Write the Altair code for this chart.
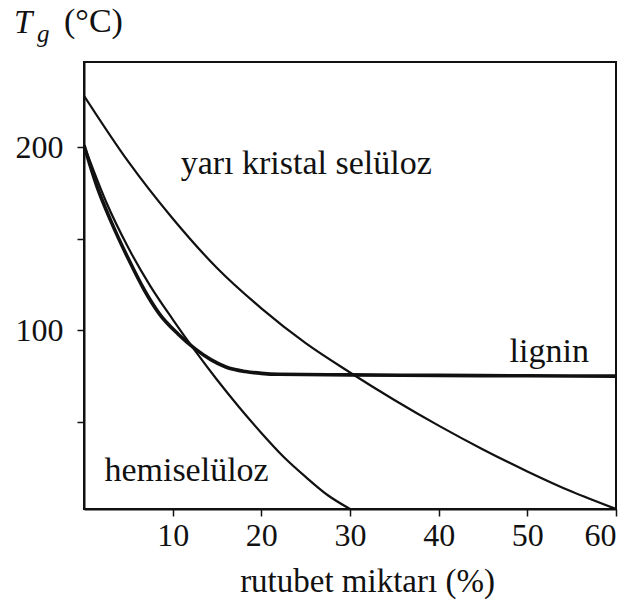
import altair as alt
import pandas as pd

# --- data ---
x_cellulose = [0, 5, 10, 15, 20, 25, 30, 35, 40, 45, 50, 55, 60]
tg_cellulose = [228, 192, 161, 134, 112, 93, 77, 62, 48, 35, 23, 12, 2.5]

x_lignin = [0, 1.5, 3, 5, 6.8, 8.5, 10.6, 12.5, 14.3, 16, 18.2, 20, 21.9, 30, 40, 50, 60]
tg_lignin = [201, 178, 160, 139, 122, 109, 98, 90, 84, 80, 77.5, 76.5, 76, 75.7, 75.4, 75.2, 75]

x_hemi = [0, 2.5, 5, 7.5, 10, 12.5, 15, 17.5, 20, 22.5, 25, 27.5, 30]
tg_hemi = [201, 170, 145, 124, 106, 89, 73, 58, 44, 31, 20, 10, 2.5]

series_names = ["yarı kristal selüloz", "lignin", "hemiselüloz"]
x_ticks = [10, 20, 30, 40, 50, 60]
y_ticks = [50, 100, 150, 200]

FONT = "Liberation Serif"
INK = "#111111"

def frame(xs, ys):
    return pd.DataFrame({"moisture": xs, "tg": ys, "order": list(range(len(xs)))})

xscale = alt.Scale(domain=[0, 60], nice=False, zero=False)
yscale = alt.Scale(domain=[2.5, 246.4], nice=False, zero=False)

x_enc = alt.X("moisture:Q", scale=xscale,
              axis=alt.Axis(values=x_ticks, title="rutubet miktarı (%)", grid=False,
                            domainColor=INK, domainWidth=2, tickColor=INK,
                            tickSize=7, tickWidth=1.5, labelFont=FONT, labelFontSize=32,
                            labelColor=INK, labelPadding=4, titleFont=FONT,
                            titleFontSize=33, titleFontWeight="normal", titleColor=INK,
                            titleX=283, titleY=82, titleBaseline="alphabetic"))
y_enc = alt.Y("tg:Q", scale=yscale,
              axis=alt.Axis(values=y_ticks, title=None, grid=False,
                            labelExpr="(datum.value == 100 || datum.value == 200) ? datum.label : ''",
                            domainColor=INK, domainWidth=2, tickColor=INK,
                            tickSize=7, tickWidth=1.5, labelFont=FONT, labelFontSize=32,
                            labelColor=INK, labelPadding=14))

def curve(xs, ys, width):
    return alt.Chart(frame(xs, ys)).mark_line(
        color=INK, interpolate="monotone", clip=True, strokeWidth=width).encode(
        x=x_enc, y=y_enc, order="order:Q")

line_cell = curve(x_cellulose, tg_cellulose, 2.2)
line_hemi = curve(x_hemi, tg_hemi, 2.2)
line_lig = curve(x_lignin, tg_lignin, 3.6)

def label(text, xv, yv):
    return alt.Chart().mark_text(text=text, font=FONT, fontSize=34, align="left",
                                 baseline="middle", color=INK).encode(
        x=alt.datum(xv, scale=xscale), y=alt.datum(yv, scale=yscale))

lab_cell = label(series_names[0], 10.9, 191)
lab_lig = label(series_names[1], 48.0, 88)
lab_hemi = label(series_names[2], 2.3, 23.5)

t_main = alt.Chart().mark_text(text="T", font=FONT, fontSize=33, fontStyle="italic",
                               align="left", baseline="alphabetic", color=INK).encode(
    x=alt.value(-70), y=alt.value(-29))
t_sub = alt.Chart().mark_text(text="g", font=FONT, fontSize=25, fontStyle="italic",
                              align="left", baseline="alphabetic", color=INK).encode(
    x=alt.value(-47), y=alt.value(-20))
t_unit = alt.Chart().mark_text(text="(°C)", font=FONT, fontSize=34,
                               align="left", baseline="alphabetic", color=INK).encode(
    x=alt.value(-20), y=alt.value(-30))

chart = alt.layer(line_cell, line_hemi, line_lig, lab_cell, lab_lig, lab_hemi,
                  t_main, t_sub, t_unit).properties(
    width=532, height=447,
    autosize=alt.AutoSizeParams(type="none"),
    padding={"left": 84, "top": 62, "right": 14, "bottom": 93},
).configure(background="white").configure_view(stroke=INK, strokeWidth=2)

chart.save("out.html", embed_options={"renderer": "svg", "actions": False})
